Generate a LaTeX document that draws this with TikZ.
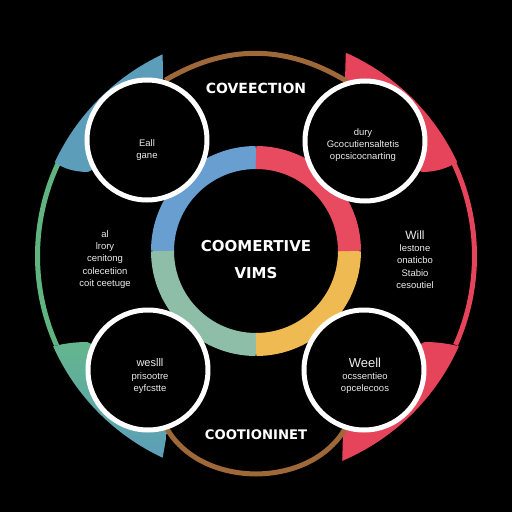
\documentclass[tikz,border=0pt]{standalone}
\usepackage{fontspec}
\setmainfont{DejaVu Sans}
\newfontfamily\smallfnt{Liberation Sans}
\definecolor{ringblue}{RGB}{105,158,208}
\definecolor{ringred}{RGB}{232,74,95}
\definecolor{ringyellow}{RGB}{240,186,82}
\definecolor{ringsage}{RGB}{142,190,168}
\definecolor{wedgeblue}{RGB}{92,158,186}
\definecolor{wedgegreen}{RGB}{100,182,140}
\definecolor{arcgreen}{RGB}{96,180,128}
\definecolor{arcred}{RGB}{230,68,90}
\definecolor{arcbrown}{RGB}{158,104,56}
\pgfdeclarelayer{back}
\pgfsetlayers{back,main}
\begin{document}
\begin{tikzpicture}[x=1pt,y=1pt,
  bubble/.style={circle, draw=white, line width=5pt, fill=black, minimum size=120pt, inner sep=0pt},
  thinarc/.style={line width=5pt},
  brownarc/.style={draw=arcbrown, line width=5pt},
  ringseg/.style={line width=23pt},
  caption/.style={text=white, font=\fontsize{14}{14}\selectfont\bfseries},
  core/.style={text=white, align=center, font=\fontsize{15}{27}\selectfont\bfseries},
  note/.style={text=white!92!black, align=center, font=\smallfnt\fontsize{9.5}{12.2}\selectfont}
]
\useasboundingbox (-256,-256) rectangle (256,256);

% bubbles
\node[bubble] (tl) at (-109,116) {};
\node[bubble] (tr) at (109,115) {};
\node[bubble] (bl) at (-108,-114) {};
\node[bubble] (br) at (108,-114) {};

\begin{pgfonlayer}{back}
\fill[black] (-256,-256) rectangle (256,256);
% outer thin arcs
\draw[thinarc, arcgreen] (155:218.5) arc[start angle=155, end angle=205, radius=218.5];
\draw[thinarc, arcred] (25:218.5) arc[start angle=25, end angle=-24, radius=218.5];
% wedges
\fill[wedgeblue] (155:222) arc[start angle=155, end angle=115, radius=223] -- (-93,176) -- (tl.center) -- (-168,84) .. controls (-182,84) and (-194,88) .. cycle;
\fill[arcred] (25:222) arc[start angle=25, end angle=66, radius=223] -- (89,176) -- (tr.center) -- (166,84) .. controls (180,84) and (192,88) .. cycle;
\fill[top color=wedgegreen, bottom color=wedgeblue] (204:222) arc[start angle=204, end angle=245, radius=223] -- (-89,-177) -- (bl.center) -- (-169,-86) .. controls (-182,-86) and (-194,-88) .. cycle;
\fill[arcred] (-24:222) arc[start angle=-24, end angle=-67, radius=223] -- (87,-177) -- (br.center) -- (169,-86) .. controls (182,-86) and (194,-88) .. cycle;
% brown connectors
\draw[brownarc] (tl.73) to[bend left=31] (tr.107);
\draw[brownarc] (bl.-72) to[bend right=59] (br.-108);
% central ring
\draw[ringseg, ringblue] (0,5) ++(90:93.5) arc[start angle=90, end angle=180, radius=93.5];
\draw[ringseg, ringsage] (0,5) ++(180:93.5) arc[start angle=180, end angle=270, radius=93.5];
\draw[ringseg, ringyellow] (0,5) ++(270:93.5) arc[start angle=270, end angle=360, radius=93.5];
\draw[ringseg, ringred] (0,5) ++(0:93.5) arc[start angle=0, end angle=90, radius=93.5];
\end{pgfonlayer}

% texts
\node[caption] (toplabel) at (0,168) {COVEECTION};
\node[caption, font=\fontsize{13.2}{13.2}\selectfont\bfseries] (botlabel) at (0,-179) {COOTIONINET};
\node[core] (center) at (0,-4) {COOMERTIVE\\VIMS};
\node[note] (tltext) at (-109,106) {Eall\\gane};
\node[note] (trtext) at (107,111) {dury\\Gcocutiensaltetis\\opcsicocnarting};
\node[note] (ltext) at (-151,-3.5) {al\\lrory\\cenitong\\colecetiion\\coit ceetuge};
\node[note] (rtext) at (159,-3.5) {{\fontsize{12}{12}\selectfont Will}\\lestone\\onaticbo\\Stabio\\cesoutiel};
\node[note] (bltext) at (-106,-120) {{\fontsize{11}{11}\selectfont weslll}\\prisootre\\eyfcstte};
\node[note] (brtext) at (109,-120) {{\fontsize{13}{13}\selectfont Weell}\\ocssentieo\\opcelecoos};
\end{tikzpicture}
\end{document}
